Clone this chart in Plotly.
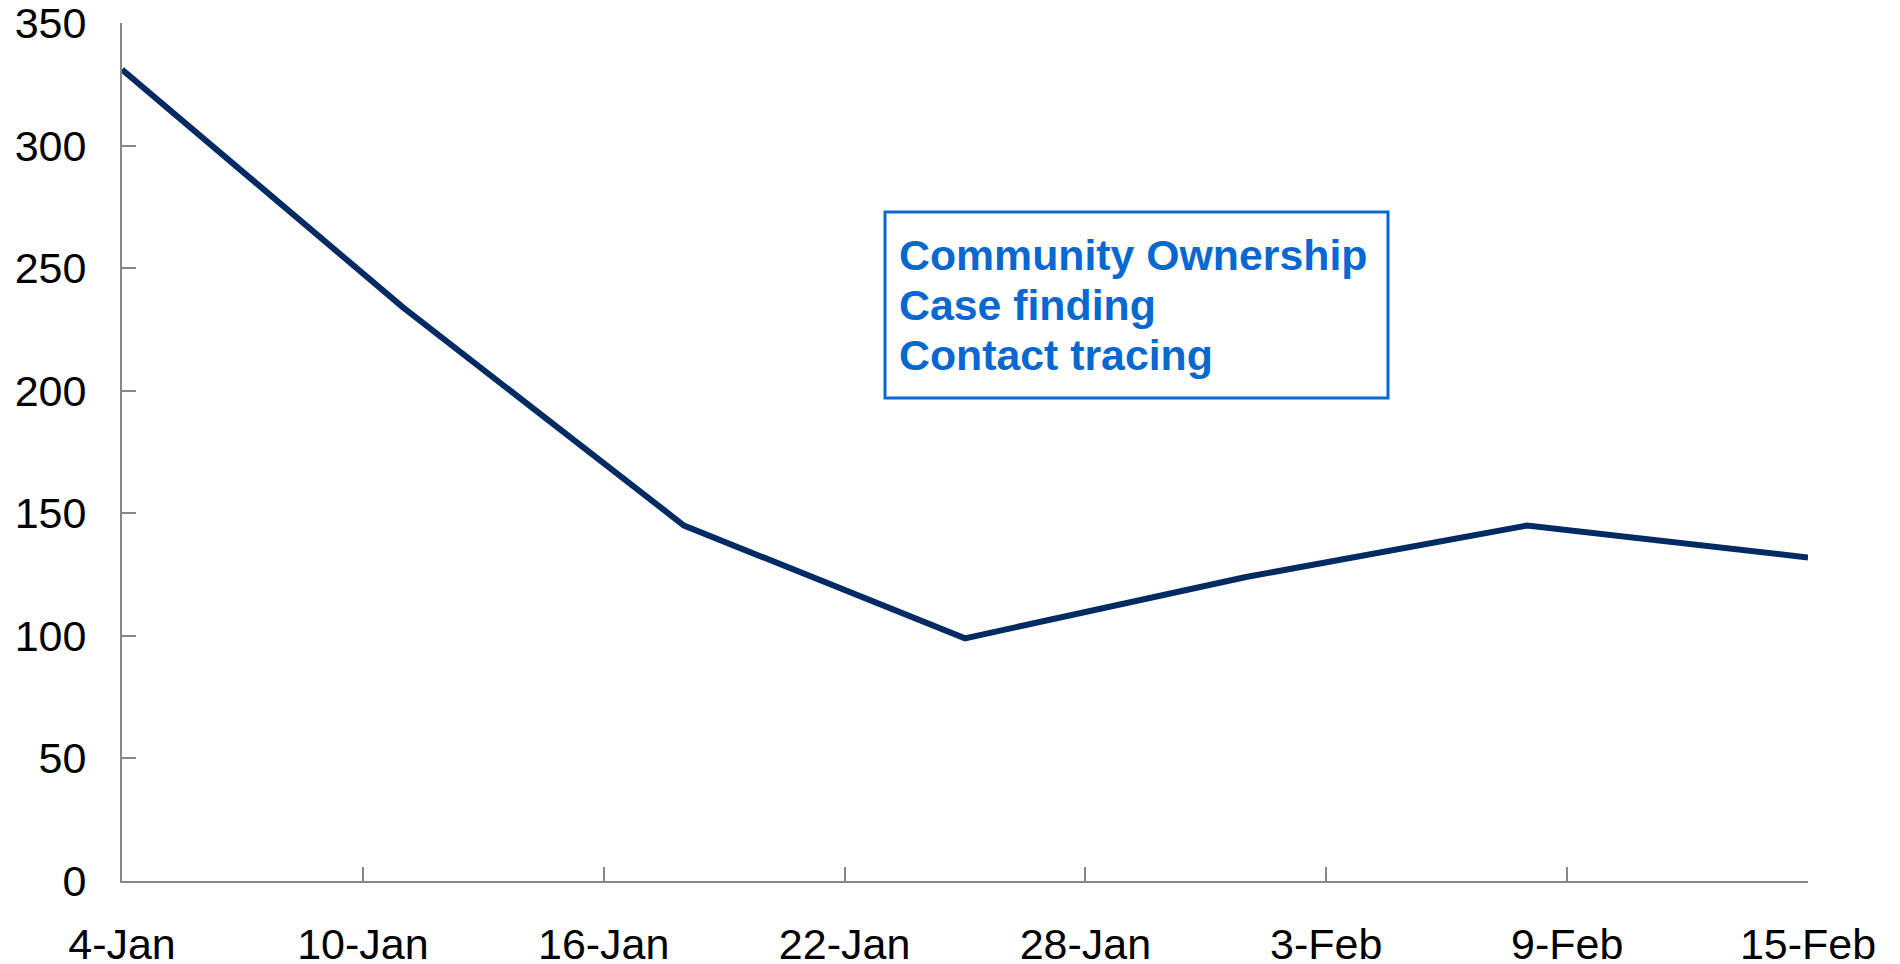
import plotly.graph_objects as go

# Data
dates = ["2021-01-04", "2021-01-11", "2021-01-18", "2021-01-25",
         "2021-02-01", "2021-02-08", "2021-02-15"]
values = [331, 234, 145, 99, 124, 145, 132]

tick_dates = ["2021-01-04", "2021-01-10", "2021-01-16", "2021-01-22",
              "2021-01-28", "2021-02-03", "2021-02-09", "2021-02-15"]
tick_labels = ["4-Jan", "10-Jan", "16-Jan", "22-Jan",
               "28-Jan", "3-Feb", "9-Feb", "15-Feb"]
y_ticks = [0, 50, 100, 150, 200, 250, 300, 350]

box_lines = ["Community Ownership", "Case finding", "Contact tracing"]

W, H = 1900, 964
L, R, T, B = 122, 92, 23, 83
pw, ph = W - L - R, H - T - B

def px_x(p):
    return (p - L) / pw

def px_y(p):
    return (H - B - p) / ph

fig = go.Figure()
fig.add_trace(go.Scatter(
    x=dates, y=values, mode="lines",
    line=dict(color="#032B63", width=6),
    cliponaxis=False, showlegend=False,
))

axis_gray = "#878787"
fig.update_xaxes(
    type="date", range=[dates[0], dates[-1]], automargin=False,
    tickmode="array", tickvals=tick_dates, ticktext=tick_labels,
    ticks="inside", ticklen=14, tickwidth=2, tickcolor=axis_gray,
    showline=True, linecolor=axis_gray, linewidth=2,
    showgrid=False, zeroline=False, ticklabeloverflow="allow",
    tickfont=dict(family="Liberation Sans, Arial", size=43, color="#000000"),
    ticklabelstandoff=24,
)
fig.update_yaxes(
    range=[0, 350], tickmode="array", tickvals=y_ticks, automargin=False,
    ticks="inside", ticklen=14, tickwidth=2, tickcolor=axis_gray,
    showline=True, linecolor=axis_gray, linewidth=2,
    showgrid=False, zeroline=False, ticklabeloverflow="allow",
    tickfont=dict(family="Liberation Sans, Arial", size=43, color="#000000"),
    ticklabelstandoff=25,
)

# Text box
fig.add_shape(type="rect", xref="paper", yref="paper",
              x0=px_x(885), x1=px_x(1388), y0=px_y(398), y1=px_y(212),
              line=dict(color="#0868CF", width=3), fillcolor="rgba(0,0,0,0)")
centers = [254.7, 305.3, 355.0]
for txt, cy in zip(box_lines, centers):
    fig.add_annotation(xref="paper", yref="paper", x=px_x(897), y=px_y(cy),
                       xanchor="left", yanchor="middle", showarrow=False,
                       text="<b>%s</b>" % txt,
                       font=dict(family="Liberation Sans, Arial", size=42.8,
                                 color="#0868CF"))

fig.update_layout(
    width=W, height=H,
    margin=dict(l=L, r=R, t=T, b=B, pad=0),
    plot_bgcolor="white", paper_bgcolor="white",
)

fig.write_html("out.html",
               config={"displayModeBar": False},
               post_script="document.body.style.margin='0';"
                           "document.body.style.overflow='hidden';")
